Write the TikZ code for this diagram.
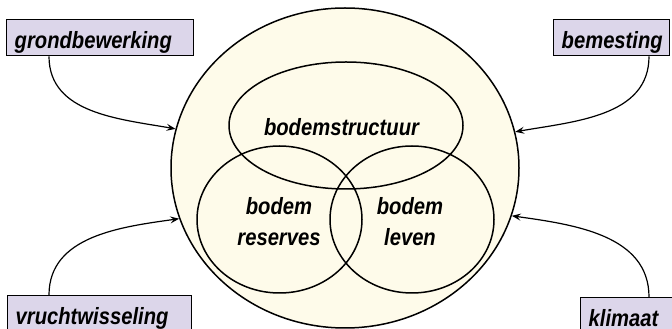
\documentclass[tikz,border=0pt]{standalone}
\usepackage{fontspec}
\usetikzlibrary{arrows.meta,shapes.geometric}
\newfontfamily\lblfont{Liberation Sans}
\definecolor{cream}{HTML}{FEFBEA}
\definecolor{lav}{HTML}{DCD6EA}
\newcommand{\nar}[1]{\scalebox{0.86}[1]{#1}}
\begin{document}
\begin{tikzpicture}[x=1pt,y=1pt,
  lbl/.style={font=\lblfont\bfseries\itshape\fontsize{23.5}{31}\selectfont, inner sep=0pt, align=center},
  outer/.style={ellipse, draw, line width=1.5pt, fill=cream, inner sep=0pt},
  ring/.style={ellipse, draw, line width=1.5pt, inner sep=0pt},
  factor/.style={draw, line width=1.4pt, fill=lav, inner xsep=8pt, inner ysep=0pt,
    minimum height=36pt, text height=23pt, text depth=1pt, align=left, anchor=north west,
    font=\lblfont\bfseries\itshape\fontsize{23.5}{26}\selectfont},
  link/.style={line width=1.2pt, -{Stealth[length=9pt,width=7pt,inset=3.5pt]}}]
\useasboundingbox (0,0) rectangle (672,329);
\clip (0,0) rectangle (672,329);
% soil ellipses
\node[outer, minimum width=348pt, minimum height=320pt] (soil) at (345,161) {};
\node[ring, minimum width=234pt, minimum height=127pt] (struct) at (346,203.5) {};
\node[ring, minimum width=165pt, minimum height=147pt] (res) at (279.5,109.5) {};
\node[ring, minimum width=164pt, minimum height=147pt] (life) at (412,109.5) {};
% labels
\node[lbl, anchor=base] (tstruct) at (341.5,193) {\nar{bodemstructuur}};
\node[lbl] (tres) at (279,107.5) {\nar{bodem}\\\nar{reserves}};
\node[lbl] (tlife) at (410,107.5) {\nar{bodem}\\\nar{leven}};
% factors
\node[factor, text width=171pt] (grond) at (6,310) {\nar{grondbewerking}};
\node[factor, text width=100pt] (bemest) at (553,310) {\nar{bemesting}};
\node[factor, text width=168pt] (vrucht) at (7,34) {\nar{vruchtwisseling}};
\node[factor, text width=84pt] (klim) at (580,32) {\nar{klimaat}};
% connectors
\draw[link] ([xshift=43pt]grond.south west) to[out=-90,in=170] (soil.167.6);
\draw[link] ([xshift=96pt]bemest.south west) to[out=-90,in=10] (soil.12.3);
\draw[link] ([xshift=42pt]vrucht.north west) to[out=90,in=188] (soil.197.5);
\draw[link] ([xshift=69pt]klim.north west) to[out=90,in=-8] (soil.-16.9);
\end{tikzpicture}
\end{document}
